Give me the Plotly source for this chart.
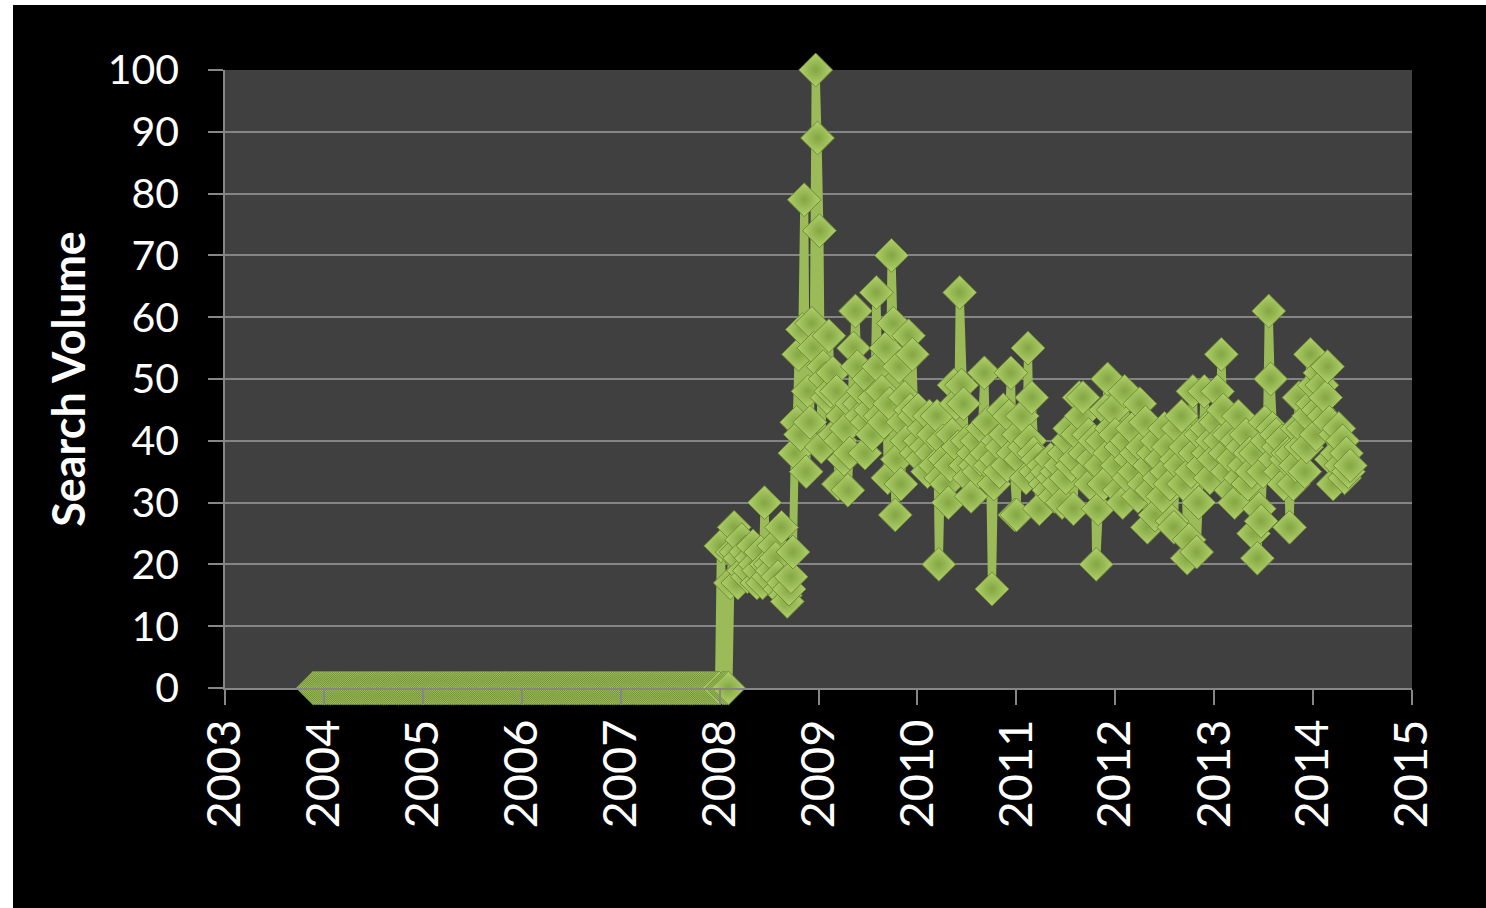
import pandas as pd
import plotly.graph_objects as go

# Weekly search volume (index, peak = 100), first week 2003-11-23
early_weeks = [
    0, 0, 0, 0, 0, 0, 0, 0, 0, 0, 0, 0, 0, 0, 0, 0, 0, 0, 0, 0,
    0, 0, 0, 0, 0, 0, 0, 0, 0, 0, 0, 0, 0, 0, 0, 0, 0, 0, 0, 0,
    0, 0, 0, 0, 0, 0, 0, 0, 0, 0, 0, 0, 0, 0, 0, 0, 0, 0, 0, 0,
    0, 0, 0, 0, 0, 0, 0, 0, 0, 0, 0, 0, 0, 0, 0, 0, 0, 0, 0, 0,
    0, 0, 0, 0, 0, 0, 0, 0, 0, 0, 0, 0, 0, 0, 0, 0, 0, 0, 0, 0,
    0, 0, 0, 0, 0, 0, 0, 0, 0, 0, 0, 0, 0, 0, 0, 0, 0, 0, 0, 0,
    0, 0, 0, 0, 0, 0, 0, 0, 0, 0, 0, 0, 0, 0, 0, 0, 0, 0, 0, 0,
    0, 0, 0, 0, 0, 0, 0, 0, 0, 0, 0, 0, 0, 0, 0, 0, 0, 0, 0, 0,
    0, 0, 0, 0, 0, 0, 0, 0, 0, 0, 0, 0, 0, 0, 0, 0, 0, 0, 0, 0,
    0, 0, 0, 0, 0, 0, 0, 0, 0, 0, 0, 0, 0, 0, 0, 0, 0, 0, 0, 0,
    0, 0, 0, 0, 0, 0, 0, 0, 0, 0, 0, 0, 0, 0, 0,
    23, 0, 0, 0, 0,
]
vol_2008 = [
    17, 22, 26, 22, 17, 21, 24, 19, 22, 18, 19, 21, 23, 20, 17, 19,
    22, 17, 30, 20, 18, 20, 19, 23, 21, 18, 16, 26, 17, 15, 14, 16,
    18, 22, 38, 43, 54, 41, 58, 79, 35, 48, 43, 59, 55, 100, 89,
]
vol_2009 = [
    74, 39, 52, 50, 47, 57, 48, 51, 41, 48, 33, 40, 44, 37, 42, 32,
    38, 46, 55, 61, 52, 46, 44, 48, 38, 43, 50, 45, 41, 47, 64, 52,
    44, 48, 43, 55, 34, 46, 70, 59, 28, 37, 52, 33, 43, 47, 40, 57,
    45, 54, 44, 38,
]
vol_2010 = [
    45, 40, 37, 42, 39, 35, 44, 38, 41, 36, 44, 20, 34, 40, 37, 33,
    30, 36, 41, 49, 46, 39, 64, 49, 46, 36, 40, 34, 31, 38, 36, 40,
    35, 37, 42, 51, 38, 43, 36, 16, 33, 37, 40, 35, 39, 45, 41, 36,
    44, 51, 38, 28,
]
vol_2011 = [
    28, 41, 37, 44, 39, 34, 55, 40, 47, 38, 35, 37, 29, 34, 36, 33,
    35, 32, 37, 34, 31, 35, 33, 36, 30, 38, 34, 40, 42, 36, 29, 37,
    41, 47, 44, 47, 38, 35, 41, 33, 37, 40, 20, 29, 36, 40, 33, 45,
    50, 38, 42, 45,
]
vol_2012 = [
    41, 36, 32, 39, 30, 48, 40, 34, 37, 42, 35, 38, 31, 46, 39, 33,
    43, 26, 36, 32, 38, 28, 40, 34, 37, 31, 42, 35, 39, 33, 27, 26,
    37, 42, 36, 44, 33, 39, 21, 24, 35, 48, 38, 22, 30, 41, 36, 48,
    42, 38, 34, 40,
]
vol_2013 = [
    37, 43, 48, 40, 54, 45, 38, 35, 41, 32, 37, 30, 40, 44, 34, 39,
    36, 41, 33, 38, 35, 25, 38, 21, 29, 27, 35, 43, 40, 61, 50, 42,
    37, 41, 39, 35, 40, 33, 37, 38, 26, 38, 33, 36, 42, 47, 39, 42,
    35, 39, 44, 54,
]
vol_2014 = [
    46, 49, 41, 45, 51, 49, 44, 47, 52, 43, 37, 33, 41, 38, 42, 36,
    40, 34, 38, 35, 36,
]

volume = early_weeks + vol_2008 + vol_2009 + vol_2010 + vol_2011 + vol_2012 + vol_2013 + vol_2014
weeks = pd.date_range("2003-11-23", periods=len(volume), freq="7D")

year_labels = ["2003", "2004", "2005", "2006", "2007", "2008", "2009",
               "2010", "2011", "2012", "2013", "2014", "2015"]
year_ticks = [f"{y}-01-01" for y in year_labels]
y_ticks = [0, 10, 20, 30, 40, 50, 60, 70, 80, 90, 100]

GREEN = "#9bbb59"
AXIS_GRAY = "#868686"
FONT = "Lato, 'Open Sans', sans-serif"

fig = go.Figure(
    go.Scatter(
        x=weeks,
        y=volume,
        mode="lines+markers",
        line=dict(color=GREEN, width=8),
        marker=dict(
            symbol="diamond",
            size=26,
            color="#b0d16a",
            gradient=dict(type="radial", color="#84a643"),
            line=dict(color="#6f8c37", width=1),
        ),
        cliponaxis=False,
        showlegend=False,
    )
)

W, H = 1486, 908
ML, MR, MT, MB = 225, 74, 70, 220
pw, ph = W - ML - MR, H - MT - MB


def px_x(p):
    return (p - ML) / pw


def px_y(p):
    return (H - MB - p) / ph


fig.update_layout(
    width=W,
    height=H,
    margin=dict(l=ML, r=MR, t=MT, b=MB, pad=0),
    paper_bgcolor="black",
    plot_bgcolor="#404040",
    font=dict(family=FONT, color="white"),
    shapes=[
        # thin white frame on the top and left of the slide area
        dict(type="rect", xref="paper", yref="paper", layer="above",
             x0=px_x(0), x1=px_x(W), y0=px_y(5), y1=px_y(0),
             fillcolor="white", line=dict(width=0)),
        dict(type="rect", xref="paper", yref="paper", layer="above",
             x0=px_x(0), x1=px_x(13), y0=px_y(H), y1=px_y(0),
             fillcolor="white", line=dict(width=0)),
    ],
)

fig.update_xaxes(
    type="date",
    range=[year_ticks[0], year_ticks[-1]],
    tickvals=year_ticks,
    ticktext=year_labels,
    tickangle=-90,
    tickfont=dict(family=FONT, size=47, color="white"),
    ticks="outside",
    ticklen=15,
    tickwidth=1.5,
    tickcolor=AXIS_GRAY,
    ticklabelstandoff=-4,
    showgrid=False,
    showline=True,
    linecolor=AXIS_GRAY,
    linewidth=1.5,
    zeroline=False,
)

fig.update_yaxes(
    range=[0, 100],
    tickvals=y_ticks,
    tickfont=dict(family=FONT, size=41, color="white"),
    ticks="outside",
    ticklen=15,
    tickwidth=1.5,
    tickcolor=AXIS_GRAY,
    ticklabelstandoff=21,
    showgrid=True,
    gridcolor="#858585",
    gridwidth=1.5,
    showline=True,
    linecolor=AXIS_GRAY,
    linewidth=1.5,
    zeroline=False,
    title=dict(
        text="<b>Search Volume</b>",
        font=dict(family=FONT, size=45, color="white"),
        standoff=8,
    ),
)

fig.write_html("out.html")
